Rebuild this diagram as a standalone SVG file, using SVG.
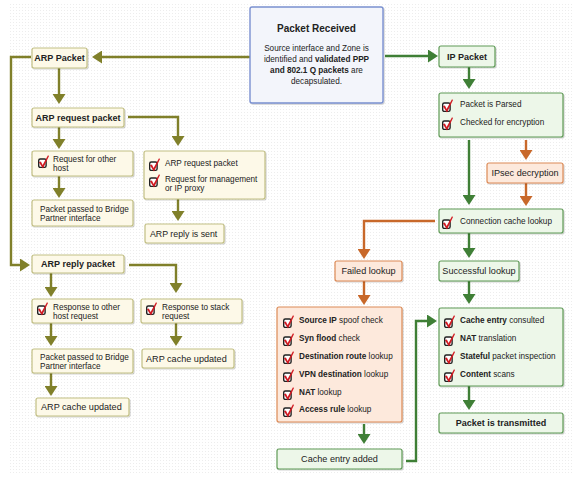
<svg xmlns="http://www.w3.org/2000/svg" xmlns:xlink="http://www.w3.org/1999/xlink" width="578" height="503" viewBox="0 0 578 503">
<style>
text{font-family:"Liberation Sans",Arial,sans-serif;font-size:8.2px;fill:#222}
.b{font-weight:bold}
.t{font-size:9px;font-weight:bold}
.m{font-size:9.1px}
.c{text-anchor:middle}
.ol{fill:#fdf9e8;stroke:#c2bf84;stroke-width:1.2}
.gr{fill:#edf7e9;stroke:#5f9a56;stroke-width:1.2}
.or{fill:#fde9dc;stroke:#dc8a56;stroke-width:1.2}
.bl{fill:#f3f5fb;stroke:#7a90d0;stroke-width:1.4}
.lo{fill:none;stroke:#80802a;stroke-width:2.4}
.lg{fill:none;stroke:#3f7f36;stroke-width:2.4}
.lr{fill:none;stroke:#c8682a;stroke-width:2.4}
</style>
<defs>
<pattern id="dots" width="3" height="3" patternUnits="userSpaceOnUse"><rect x="1" y="1" width="1" height="1" fill="#ededed"/></pattern>
<filter id="sh" x="-10%" y="-10%" width="130%" height="140%"><feDropShadow dx="1" dy="1" stdDeviation="0.6" flood-color="#000" flood-opacity="0.18"/></filter>
<marker id="ao" viewBox="0 0 10 13" refX="2" refY="6.5" markerWidth="10" markerHeight="13" markerUnits="userSpaceOnUse" orient="auto"><path d="M0,0 L10,6.5 L0,13z" fill="#80802a"/></marker>
<marker id="ag" viewBox="0 0 10 13" refX="2" refY="6.5" markerWidth="10" markerHeight="13" markerUnits="userSpaceOnUse" orient="auto"><path d="M0,0 L10,6.5 L0,13z" fill="#3f7f36"/></marker>
<marker id="ar" viewBox="0 0 10 13" refX="2" refY="6.5" markerWidth="10" markerHeight="13" markerUnits="userSpaceOnUse" orient="auto"><path d="M0,0 L10,6.5 L0,13z" fill="#c8682a"/></marker>
<symbol id="chk" viewBox="0 0 12 14" width="12" height="14" overflow="visible">
<rect x="0.7" y="4" width="7.4" height="8.4" rx="1.6" fill="#fff" stroke="#222" stroke-width="1.4"/>
<path d="M0.9,7.2 L2.9,6.4 L4.6,10 L10,0.2 L11,0.9 L5,13.4z" fill="#d11a22"/>
</symbol>
</defs>
<rect x="8" y="4" width="564" height="470" fill="url(#dots)"/>

<g id="connectors">
<path class="lo" d="M250,57 H100" marker-end="url(#ao)"/>
<path class="lo" d="M31,57 H11 V265 H22" marker-end="url(#ao)"/>
<path class="lo" d="M59,68 V96" marker-end="url(#ao)"/>
<path class="lo" d="M59,127 V141" marker-end="url(#ao)"/>
<path class="lo" d="M128,117 H178 V138" marker-end="url(#ao)"/>
<path class="lo" d="M59,176 V190" marker-end="url(#ao)"/>
<path class="lo" d="M178,199 V213" marker-end="url(#ao)"/>
<path class="lo" d="M51,273 V289" marker-end="url(#ao)"/>
<path class="lo" d="M129,265 H176 V285" marker-end="url(#ao)"/>
<path class="lo" d="M51,323 V338" marker-end="url(#ao)"/>
<path class="lo" d="M51,373 V388" marker-end="url(#ao)"/>
<path class="lo" d="M176,323 V338" marker-end="url(#ao)"/>
<path class="lg" d="M385,56 H430" marker-end="url(#ag)"/>
<path class="lg" d="M469,67 V81" marker-end="url(#ag)"/>
<path class="lg" d="M469,140 V197" marker-end="url(#ag)"/>
<path class="lg" d="M469,233 V250" marker-end="url(#ag)"/>
<path class="lg" d="M469,281 V296" marker-end="url(#ag)"/>
<path class="lg" d="M469,386 V402" marker-end="url(#ag)"/>
<path class="lg" d="M364,424 V436" marker-end="url(#ag)"/>
<path class="lg" d="M406,461 H416 V321 H429" marker-end="url(#ag)"/>
<path class="lr" d="M526,140 V152" marker-end="url(#ar)"/>
<path class="lr" d="M526,183 V198" marker-end="url(#ar)"/>
<path class="lr" d="M435,221 H364 V251" marker-end="url(#ar)"/>
<path class="lr" d="M364,281 V297" marker-end="url(#ar)"/>
</g>

<g id="packet-received">
<rect class="bl" x="250" y="7" width="133" height="96" rx="2" filter="url(#sh)"/>
<text class="c" x="316.5" y="32" style="font-size:10px;font-weight:bold">Packet Received</text>
<text class="c" x="316.5" y="51">Source interface and Zone is</text>
<text class="c" x="316.5" y="62">identified and <tspan class="b">validated PPP</tspan></text>
<text class="c" x="316.5" y="73"><tspan class="b">and 802.1 Q packets</tspan> are</text>
<text class="c" x="316.5" y="83.5">decapsulated.</text>
</g>

<g id="arp-packet">
<rect class="ol" x="32" y="48" width="55" height="20" rx="2" filter="url(#sh)"/>
<text class="t c" x="59.5" y="61.2">ARP Packet</text>
</g>
<g id="arp-request-packet">
<rect class="ol" x="32" y="108" width="92" height="19" rx="2" filter="url(#sh)"/>
<text class="t c" x="78" y="120.8">ARP request packet</text>
</g>
<g id="request-other-host">
<rect class="ol" x="32" y="151" width="101" height="25" rx="2" filter="url(#sh)"/>
<use xlink:href="#chk" x="38" y="155"/>
<text x="53" y="162">Request for other</text>
<text x="53" y="171.2">host</text>
</g>
<g id="packet-passed-1">
<rect class="ol" x="32" y="200" width="101" height="26" rx="2" filter="url(#sh)"/>
<text x="40" y="212">Packet passed to Bridge</text>
<text x="40" y="221.2">Partner interface</text>
</g>
<g id="arp-request-management">
<rect class="ol" x="144" y="151" width="121" height="48" rx="2" filter="url(#sh)"/>
<use xlink:href="#chk" x="149" y="158"/>
<text x="165" y="166">ARP request packet</text>
<use xlink:href="#chk" x="149" y="174"/>
<text x="165" y="182">Request for management</text>
<text x="165" y="191.2">or IP proxy</text>
</g>
<g id="arp-reply-sent">
<rect class="ol" x="145" y="224" width="79" height="19" rx="2" filter="url(#sh)"/>
<text class="m" x="150" y="236.8" style="font-size:8.8px">ARP reply is sent</text>
</g>
<g id="arp-reply-packet">
<rect class="ol" x="32" y="255" width="92" height="18" rx="2" filter="url(#sh)"/>
<text class="t c" x="78" y="267.3">ARP reply packet</text>
</g>
<g id="response-other-host">
<rect class="ol" x="32" y="299" width="101" height="24" rx="2" filter="url(#sh)"/>
<use xlink:href="#chk" x="37" y="302"/>
<text x="53" y="310">Response to other</text>
<text x="53" y="319.2">host request</text>
</g>
<g id="packet-passed-2">
<rect class="ol" x="32" y="349" width="101" height="24" rx="2" filter="url(#sh)"/>
<text x="40" y="359.8">Packet passed to Bridge</text>
<text x="40" y="369">Partner interface</text>
</g>
<g id="arp-cache-updated-1">
<rect class="ol" x="36" y="398" width="93" height="18" rx="2" filter="url(#sh)"/>
<text class="m" x="41" y="410.2">ARP cache updated</text>
</g>
<g id="response-stack">
<rect class="ol" x="141" y="299" width="101" height="24" rx="2" filter="url(#sh)"/>
<use xlink:href="#chk" x="146" y="302"/>
<text x="162" y="310">Response to stack</text>
<text x="162" y="319.2">request</text>
</g>
<g id="arp-cache-updated-2">
<rect class="ol" x="142" y="349" width="92" height="19" rx="2" filter="url(#sh)"/>
<text class="m" x="146" y="361.6">ARP cache updated</text>
</g>

<g id="ip-packet">
<rect class="gr" x="439" y="46" width="56" height="21" rx="2" filter="url(#sh)"/>
<text class="t c" x="467" y="59.8">IP Packet</text>
</g>
<g id="parsed">
<rect class="gr" x="439" y="93" width="124" height="44" rx="2" filter="url(#sh)"/>
<use xlink:href="#chk" x="442" y="99"/>
<text x="460" y="107">Packet is Parsed</text>
<use xlink:href="#chk" x="442" y="117"/>
<text x="460" y="125">Checked for encryption</text>
</g>
<g id="ipsec">
<rect class="or" x="487" y="163" width="76" height="20" rx="2" filter="url(#sh)"/>
<text class="m c" x="525" y="176.2">IPsec decryption</text>
</g>
<g id="connection-cache">
<rect class="gr" x="439" y="209" width="124" height="24" rx="2" filter="url(#sh)"/>
<use xlink:href="#chk" x="442" y="216"/>
<text x="460" y="224">Connection cache lookup</text>
</g>
<g id="failed-lookup">
<rect class="or" x="335" y="261" width="67" height="20" rx="2" filter="url(#sh)"/>
<text class="m c" x="368.5" y="274.2">Failed lookup</text>
</g>
<g id="successful-lookup">
<rect class="gr" x="439" y="261" width="80" height="20" rx="2" filter="url(#sh)"/>
<text class="m c" x="479" y="274.2">Successful lookup</text>
</g>
<g id="checks-failed">
<rect class="or" x="277" y="307" width="125" height="115" rx="2" filter="url(#sh)"/>
<use xlink:href="#chk" x="283" y="315"/>
<text x="299" y="323"><tspan class="b">Source IP</tspan> spoof check</text>
<use xlink:href="#chk" x="283" y="333"/>
<text x="299" y="341"><tspan class="b">Syn flood</tspan> check</text>
<use xlink:href="#chk" x="283" y="351"/>
<text x="299" y="359"><tspan class="b">Destination route</tspan> lookup</text>
<use xlink:href="#chk" x="283" y="369"/>
<text x="299" y="377"><tspan class="b">VPN destination</tspan> lookup</text>
<use xlink:href="#chk" x="283" y="387"/>
<text x="299" y="395"><tspan class="b">NAT</tspan> lookup</text>
<use xlink:href="#chk" x="283" y="404"/>
<text x="299" y="412"><tspan class="b">Access rule</tspan> lookup</text>
</g>
<g id="cache-entry-added">
<rect class="gr" x="277" y="449" width="125" height="20" rx="2" filter="url(#sh)"/>
<text class="m c" x="339.5" y="462.2">Cache entry added</text>
</g>
<g id="checks-success">
<rect class="gr" x="439" y="308" width="124" height="78" rx="2" filter="url(#sh)"/>
<use xlink:href="#chk" x="444" y="315"/>
<text x="460" y="323"><tspan class="b">Cache entry</tspan> consulted</text>
<use xlink:href="#chk" x="444" y="333"/>
<text x="460" y="341"><tspan class="b">NAT</tspan> translation</text>
<use xlink:href="#chk" x="444" y="351"/>
<text x="460" y="359"><tspan class="b">Stateful</tspan> packet inspection</text>
<use xlink:href="#chk" x="444" y="369"/>
<text x="460" y="377"><tspan class="b">Content</tspan> scans</text>
</g>
<g id="transmitted">
<rect class="gr" x="439" y="413" width="124" height="20" rx="2" filter="url(#sh)"/>
<text class="t c" x="501" y="426.3">Packet is transmitted</text>
</g>
</svg>
